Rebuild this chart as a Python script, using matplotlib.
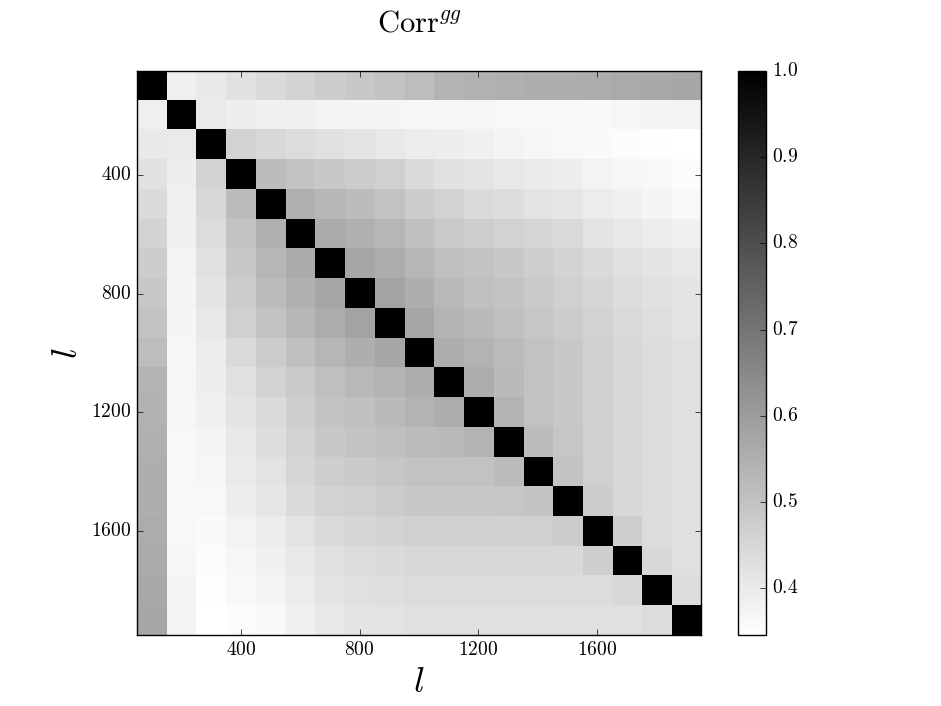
import numpy as np
import matplotlib
matplotlib.use("Agg")
import matplotlib.pyplot as plt
from matplotlib.ticker import FuncFormatter

plt.style.use('classic')
plt.rcParams['mathtext.fontset'] = 'cm'
plt.rcParams['font.family'] = 'serif'

# multipole bins (centres), width 100
ell = [100, 200, 300, 400, 500, 600, 700, 800, 900, 1000,
       1100, 1200, 1300, 1400, 1500, 1600, 1700, 1800, 1900]

# lower triangle of the correlation matrix, row i holds columns 0..i-1
corr_rows = [
    [],
    [0.388],
    [0.403, 0.400],
    [0.423, 0.390, 0.461],
    [0.441, 0.385, 0.446, 0.518],
    [0.459, 0.385, 0.436, 0.497, 0.549],
    [0.475, 0.379, 0.426, 0.487, 0.533, 0.562],
    [0.487, 0.374, 0.415, 0.477, 0.518, 0.549, 0.574],
    [0.500, 0.374, 0.405, 0.467, 0.502, 0.533, 0.559, 0.579],
    [0.515, 0.369, 0.395, 0.441, 0.477, 0.508, 0.533, 0.554, 0.574],
    [0.538, 0.369, 0.390, 0.423, 0.461, 0.484, 0.510, 0.528, 0.538, 0.557],
    [0.543, 0.369, 0.385, 0.415, 0.443, 0.472, 0.497, 0.508, 0.523, 0.538, 0.557],
    [0.549, 0.366, 0.376, 0.405, 0.433, 0.461, 0.487, 0.497, 0.508, 0.520, 0.523, 0.540],
    [0.554, 0.366, 0.371, 0.400, 0.420, 0.451, 0.472, 0.482, 0.492, 0.502, 0.502, 0.502, 0.518],
    [0.554, 0.366, 0.364, 0.390, 0.410, 0.441, 0.456, 0.467, 0.477, 0.487, 0.487, 0.487, 0.492, 0.497],
    [0.559, 0.366, 0.359, 0.379, 0.395, 0.420, 0.441, 0.451, 0.461, 0.467, 0.467, 0.467, 0.467, 0.467, 0.477],
    [0.564, 0.369, 0.354, 0.369, 0.385, 0.405, 0.426, 0.436, 0.441, 0.446, 0.446, 0.446, 0.446, 0.446, 0.446, 0.472],
    [0.566, 0.374, 0.349, 0.364, 0.374, 0.395, 0.415, 0.426, 0.431, 0.436, 0.436, 0.436, 0.436, 0.436, 0.436, 0.436, 0.446],
    [0.571, 0.379, 0.346, 0.354, 0.364, 0.385, 0.405, 0.415, 0.420, 0.426, 0.426, 0.426, 0.426, 0.426, 0.426, 0.426, 0.426, 0.436],
]

n = len(ell)
corr = np.eye(n)
for i, row in enumerate(corr_rows):
    for j, v in enumerate(row):
        corr[i, j] = v
        corr[j, i] = v

tick_vals = [400, 800, 1200, 1600]
cbar_ticks = [0.4, 0.5, 0.6, 0.7, 0.8, 0.9, 1.0]

fig = plt.figure(figsize=(9.41, 7.06), dpi=100, facecolor='white')
ax = fig.add_axes([0.1456, 0.1006, 0.5994, 0.799])
cax = fig.add_axes([0.7843, 0.1006, 0.0298, 0.799])

half = (ell[1] - ell[0]) / 2.
im = ax.imshow(corr, cmap='gray_r', interpolation='nearest',
               extent=[ell[0] - half, ell[-1] + half, ell[-1] + half, ell[0] - half])

ax.set_xticks(tick_vals)
ax.set_yticks(tick_vals)
fmt = FuncFormatter(lambda x, pos: r'$%d$' % x)
ax.xaxis.set_major_formatter(fmt)
ax.yaxis.set_major_formatter(fmt)
ax.tick_params(labelsize=14)
ax.set_xlabel(r'$l$', fontsize=26)
ax.set_ylabel(r'$l$', fontsize=26)
ax.set_title(r'$\mathrm{Corr}^{gg}$', fontsize=22, y=1.058)

cb = fig.colorbar(im, cax=cax, ticks=cbar_ticks)
cb.ax.yaxis.set_major_formatter(FuncFormatter(lambda x, pos: r'$%.1f$' % x))
cb.ax.tick_params(labelsize=14)

fig.savefig('out.png', dpi=100, facecolor='white')
